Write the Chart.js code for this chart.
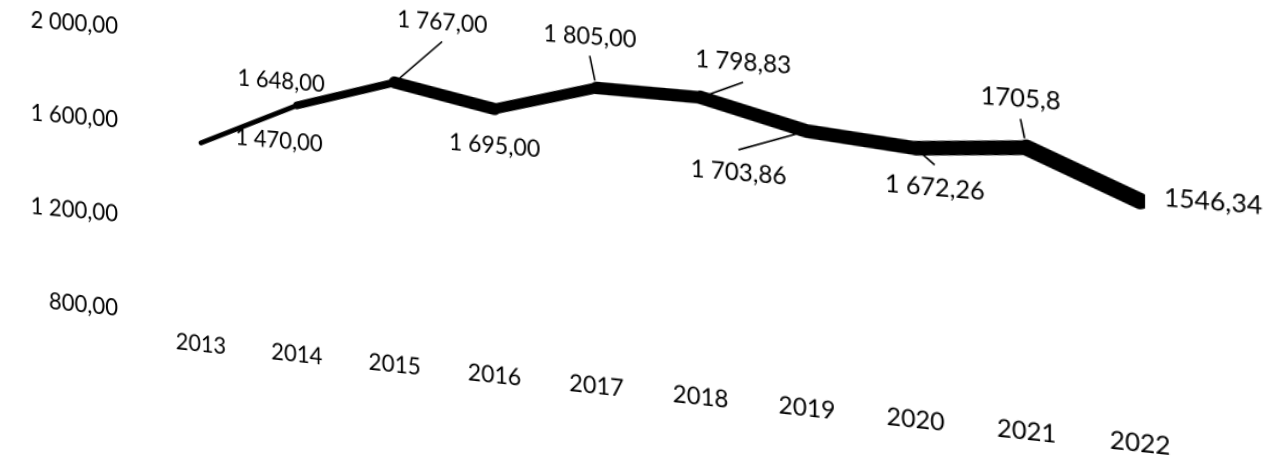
<!DOCTYPE html>
<html>
<head>
<meta charset="utf-8">
<script src="https://cdn.jsdelivr.net/npm/chart.js@4.4.0/dist/chart.umd.min.js"></script>
<style>
  html, body { margin: 0; padding: 0; background: #fff; overflow: hidden; }
  #wrap { width: 1265px; height: 458px; position: relative; overflow: hidden; }
  /* the scanned page is photographed at an angle: right side closer */
  #chart {
    display: block;
    transform-origin: 0 0;
    transform: matrix3d(0.988, 0.07, 0, -0.000107, 0, 1.0624, 0, 0, 0, 0, 1, 0, -1, -28.9, 0, 1);
  }
</style>
</head>
<body>
<div id="wrap"><canvas id="chart" width="1265" height="458"></canvas></div>
<script>
// data
const years = ["2013", "2014", "2015", "2016", "2017", "2018", "2019", "2020", "2021", "2022"];
const values = [1470, 1648, 1767, 1695, 1805, 1798.83, 1703.86, 1672.26, 1705.8, 1546.34];
const valueLabels = ["1 470,00", "1 648,00", "1 767,00", "1 695,00", "1 805,00", "1 798,83", "1 703,86", "1 672,26", "1705,8", "1546,34"];
const yTicks = [800, 1200, 1600, 2000];

// styling
const segWidths = [4.5, 7, 11, 9.5, 11, 12, 12, 12.5, 14];
const labelOffsets = [[75, -8], [-15, -21], [44, -57], [0, 33], [-6, -45], [37, -33], [-59, 41], [16, 33], [-5, -41], [58, -4]];
const leaderOn = [false, false, true, false, true, true, true, true, true, false];
const FONT = "Lato, 'Open Sans', sans-serif";

function fmt(v) {
  const parts = v.toFixed(2).split(".");
  return parts[0].replace(/\B(?=(\d{3})+(?!\d))/g, " ") + "," + parts[1];
}

const pointLabels = {
  id: "pointLabels",
  afterDatasetsDraw(chart) {
    const ctx = chart.ctx;
    const pts = chart.getDatasetMeta(0).data;
    ctx.save();
    ctx.font = "21px " + FONT;
    ctx.fillStyle = "#000";
    ctx.strokeStyle = "#000";
    ctx.lineWidth = 1.5;
    ctx.textAlign = "center";
    ctx.textBaseline = "middle";
    pts.forEach((p, i) => {
      const lx = p.x + labelOffsets[i][0];
      const ly = p.y + labelOffsets[i][1];
      if (leaderOn[i]) {
        const ex = lx;
        const ey = labelOffsets[i][1] < 0 ? ly + 17 : ly - 20;
        const len = Math.hypot(ex - p.x, ey - p.y);
        const r = segWidths[Math.min(i, segWidths.length - 1)] / 2 + 1;
        ctx.beginPath();
        ctx.moveTo(p.x + (ex - p.x) / len * r, p.y + (ey - p.y) / len * r);
        ctx.lineTo(ex, ey);
        ctx.stroke();
      }
      ctx.fillText(valueLabels[i], lx, ly);
    });
    ctx.restore();
  }
};

const config = {
  type: "line",
  data: {
    labels: years,
    datasets: [{
      label: "Valeur",
      data: values,
      yAxisID: "y",
      borderColor: "#000",
      borderWidth: 8,
      borderCapStyle: "round",
      borderJoinStyle: "round",
      pointRadius: 0,
      tension: 0,
      fill: false,
      segment: {
        borderWidth: (c) => segWidths[c.p0DataIndex]
      }
    }]
  },
  options: {
    responsive: false,
    animation: false,
    devicePixelRatio: 2,
    layout: {
      autoPadding: false,
      padding: { top: 22, left: 0, right: 237, bottom: 111.3 }
    },
    plugins: {
      legend: { display: false },
      tooltip: { enabled: false },
      title: { display: false }
    },
    scales: {
      x: {
        type: "category",
        offset: false,
        grid: { display: false, drawTicks: false },
        border: { display: false },
        ticks: {
          padding: 12,
          maxRotation: 0,
          autoSkip: false,
          color: "#000",
          font: { family: FONT, size: 21 }
        },
        afterFit: (s) => { s.height = 40; }
      },
      y: {
        display: false,
        min: 780,
        max: 2000
      },
      yl: {
        position: "left",
        min: 795.5,
        max: 2099.9,
        grid: { display: false, drawTicks: true, tickLength: 81 },
        border: { display: false },
        ticks: {
          padding: 0,
          color: "#000",
          font: { family: FONT, size: 22 },
          callback: (v) => fmt(v)
        },
        afterBuildTicks: (s) => { s.ticks = yTicks.map((v) => ({ value: v })); },
        afterFit: (s) => { s.width = 200; }
      }
    }
  },
  plugins: [pointLabels]
};

new Chart(document.getElementById("chart"), config);
</script>
</body>
</html>
